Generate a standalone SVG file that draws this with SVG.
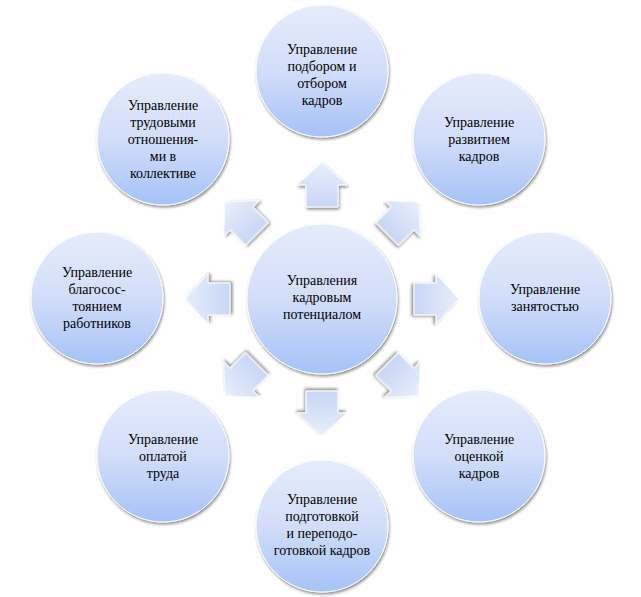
<svg xmlns="http://www.w3.org/2000/svg" width="641" height="597" viewBox="0 0 641 597">
<defs>
<linearGradient id="g" x1="0" y1="0" x2="0" y2="1"><stop offset="0" stop-color="#e6ecfb"/><stop offset="0.5" stop-color="#d2ddf9"/><stop offset="1" stop-color="#a6c2f7"/></linearGradient>
<linearGradient id="ga" x1="0" y1="0" x2="0" y2="1"><stop offset="0" stop-color="#e8eefb"/><stop offset="1" stop-color="#c8d6f5"/></linearGradient>
<filter id="sh" x="-20%" y="-20%" width="140%" height="140%"><feGaussianBlur in="SourceAlpha" stdDeviation="1.5"/><feOffset dx="1" dy="2"/><feComponentTransfer><feFuncA type="linear" slope="0.45"/></feComponentTransfer><feMerge><feMergeNode/><feMergeNode in="SourceGraphic"/></feMerge></filter>
<path id="arr" d="M0,-137 L25,-114 L16,-114 L16,-92 L-16,-92 L-16,-114 L-25,-114 Z"/>
</defs>
<style>
.n{fill:url(#g);stroke:#ffffff;stroke-width:1;filter:url(#sh)}
.a{fill:url(#ga);stroke:#ffffff;stroke-width:1;filter:url(#sh)}
text{font-family:"Liberation Serif","Times New Roman",serif;font-size:14px;fill:#000;text-anchor:middle}
</style>
<rect width="641" height="597" fill="#fff"/>
<g id="connectors">
<g transform="translate(322,299)">
<use href="#arr" class="a"/>
<use href="#arr" class="a" transform="rotate(45)"/>
<use href="#arr" class="a" transform="rotate(90)"/>
<use href="#arr" class="a" transform="rotate(135)"/>
<use href="#arr" class="a" transform="rotate(180)"/>
<use href="#arr" class="a" transform="rotate(225)"/>
<use href="#arr" class="a" transform="rotate(270)"/>
<use href="#arr" class="a" transform="rotate(315)"/>
</g>
</g>
<g id="center"><circle class="n" cx="322" cy="299" r="75"/><text x="322" y="285">Управления</text><text x="322" y="302">кадровым</text><text x="322" y="319">потенциалом</text></g>
<g id="top"><circle class="n" cx="322" cy="71" r="66"/><text x="322" y="54">Управление</text><text x="322" y="71">подбором и</text><text x="322" y="88">отбором</text><text x="322" y="105">кадров</text></g>
<g id="topright"><circle class="n" cx="479" cy="139" r="66"/><text x="479" y="127">Управление</text><text x="479" y="144">развитием</text><text x="479" y="161">кадров</text></g>
<g id="right"><circle class="n" cx="545" cy="298" r="66"/><text x="545" y="294">Управление</text><text x="545" y="311">занятостью</text></g>
<g id="bottomright"><circle class="n" cx="479" cy="456" r="66"/><text x="479" y="444">Управление</text><text x="479" y="461">оценкой</text><text x="479" y="478">кадров</text></g>
<g id="bottom"><circle class="n" cx="322" cy="526" r="66"/><text x="322" y="504">Управление</text><text x="322" y="521">подготовкой</text><text x="322" y="538">и переподо-</text><text x="322" y="555">готовкой кадров</text></g>
<g id="bottomleft"><circle class="n" cx="163" cy="456" r="66"/><text x="163" y="444">Управление</text><text x="163" y="461">оплатой</text><text x="163" y="478">труда</text></g>
<g id="left"><circle class="n" cx="97" cy="298" r="66"/><text x="97" y="277">Управление</text><text x="97" y="294">благосос-</text><text x="97" y="311">тоянием</text><text x="97" y="328">работников</text></g>
<g id="topleft"><circle class="n" cx="163" cy="139" r="66"/><text x="163" y="110">Управление</text><text x="163" y="127">трудовыми</text><text x="163" y="144">отношения-</text><text x="163" y="161">ми в</text><text x="163" y="178">коллективе</text></g>
</svg>
